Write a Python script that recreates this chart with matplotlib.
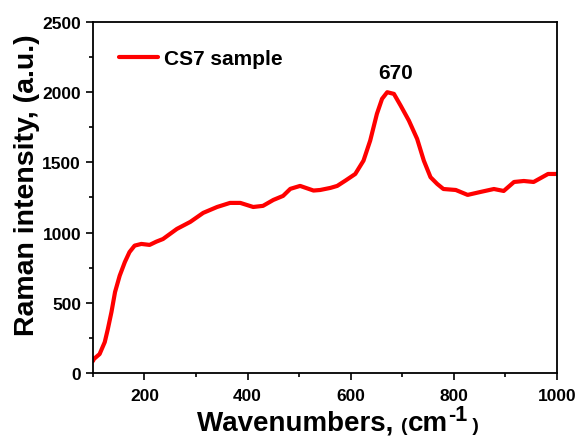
import matplotlib
matplotlib.use('Agg')
import matplotlib.pyplot as plt
from matplotlib.ticker import MultipleLocator

plt.rcParams['font.family'] = ['Liberation Sans', 'DejaVu Sans']
plt.rcParams['font.weight'] = 'bold'

# Raman spectrum
wavenumber = [100, 102, 113, 123, 129, 136, 143, 152, 162, 171, 181, 194, 210,
              223, 236, 263, 289, 314, 341, 366, 386, 411, 430, 450, 469, 483,
              502, 528, 541, 561, 574, 590, 609, 625, 638, 651, 661, 671, 684,
              697, 713, 729, 742, 755, 768, 780, 804, 827, 852, 878, 897, 917,
              936, 955, 983, 1000]
intensity = [85, 100, 135, 220, 313, 434, 577, 693, 790, 861, 907, 919, 912,
             935, 954, 1026, 1076, 1140, 1182, 1211, 1211, 1182, 1190, 1232,
             1261, 1311, 1332, 1299, 1303, 1318, 1332, 1370, 1417, 1512, 1655,
             1845, 1952, 1999, 1987, 1904, 1797, 1667, 1512, 1394, 1346, 1310,
             1303, 1268, 1289, 1310, 1296, 1360, 1367, 1360, 1417, 1417]

fig = plt.figure(figsize=(5.77, 4.39), dpi=100)
ax = fig.add_axes([0.161, 0.148, 0.804, 0.800])

ax.plot(wavenumber, intensity, color='red', lw=3, label='CS7 sample',
        solid_joinstyle='round', solid_capstyle='round')
ax.text(687, 2140, '670', ha='center', va='center', fontsize=15, fontweight='bold')

ax.set_xlim(100, 1000)
ax.set_ylim(0, 2500)
ax.xaxis.set_major_locator(MultipleLocator(200))
ax.xaxis.set_minor_locator(MultipleLocator(100))
ax.yaxis.set_major_locator(MultipleLocator(500))
ax.yaxis.set_minor_locator(MultipleLocator(250))
ax.tick_params(which='both', direction='out', width=1.2, labelsize=12.5)
ax.tick_params(which='major', length=5)
ax.tick_params(which='minor', length=3)
ax.tick_params(axis='x', pad=5.5)
for s in ax.spines.values():
    s.set_linewidth(1.3)

fig.text(27 / 577, 1 - 185 / 439, 'Raman intensity, (a.u.)', rotation=90,
         ha='center', va='center', fontsize=20.5, fontweight='bold')

# x label built from pieces: small parentheses, superscript -1
fig.canvas.draw()
r = fig.canvas.get_renderer()
x0, base = 197, 8
pieces = [('Wavenumbers, ', 20, 0), ('(', 14, 0), ('cm', 20, 0),
          ('-1', 15.5, 10), (' )', 14, 0)]
for s, fs, dy in pieces:
    t = fig.text(x0 / 577, (base + dy) / 439, s, fontsize=fs, fontweight='bold',
                 ha='left', va='baseline')
    x0 += t.get_window_extent(r).width

leg = ax.legend(loc='upper left', frameon=False, fontsize=15, handlelength=1.9,
                handletextpad=0.3, bbox_to_anchor=(0.015, 0.975))
for t in leg.get_texts():
    t.set_fontweight('bold')

fig.savefig('out.png', dpi=100)
